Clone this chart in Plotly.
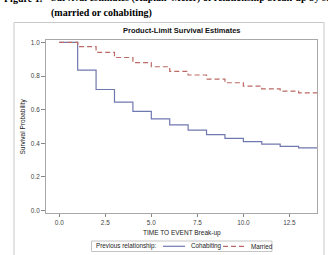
import plotly.graph_objects as go

# Data (Kaplan-Meier step estimates)
time = [0, 1, 2, 3, 4, 5, 6, 7, 8, 9, 10, 11, 12, 13, 14]
cohabiting = [1.0, 0.835, 0.72, 0.645, 0.59, 0.545, 0.51, 0.478, 0.452, 0.43, 0.41, 0.395, 0.382, 0.373, 0.373]
married = [1.0, 0.975, 0.94, 0.91, 0.88, 0.855, 0.828, 0.806, 0.782, 0.76, 0.74, 0.724, 0.71, 0.70, 0.70]
x_ticks = [0, 2.5, 5, 7.5, 10, 12.5]
y_ticks = [0, 0.2, 0.4, 0.6, 0.8, 1.0]
series_names = ["Cohabiting", "Married"]

W, H = 328, 255
L, R, T, B = 46, 11, 40, 42
pw, ph = W - L - R, H - T - B

def px(x):
    return (x - L) / pw

def py(y):
    return (H - B - y) / ph

BLUE = "#7078b0"
RED = "#bb6a66"
SANS = "Liberation Sans, Arial"

fig = go.Figure()
fig.add_trace(go.Scatter(x=time, y=cohabiting, mode="lines", line_shape="hv",
                         name=series_names[0], line=dict(color=BLUE, width=1.2)))
fig.add_trace(go.Scatter(x=time, y=married, mode="lines", line_shape="hv",
                         name=series_names[1], line=dict(color=RED, width=1.2, dash="5px,3px")))

axfont = dict(family=SANS, size=6.4, color="#444444")
fig.update_xaxes(range=[-0.72, 14.0], tickvals=x_ticks, tickformat=".1f",
                 showgrid=False, zeroline=False, showline=True, mirror=True,
                 linecolor="#a8a8a8", linewidth=1, ticks="outside", ticklen=3,
                 tickcolor="#888888", tickfont=axfont)
fig.update_yaxes(range=[-0.014, 1.014], tickvals=y_ticks, tickformat=".1f",
                 showgrid=False, zeroline=False, showline=True, mirror=True,
                 linecolor="#a8a8a8", linewidth=1, ticks="outside", ticklen=4,
                 tickcolor="#888888", tickfont=axfont)

titlefont = dict(family=SANS, size=6.5, color="#222222")
fig.add_annotation(xref="paper", yref="paper", x=0.5, y=py(233), text="TIME TO EVENT Break-up",
                   showarrow=False, xanchor="center", yanchor="middle", font=titlefont)
fig.add_annotation(xref="paper", yref="paper", x=px(22), y=py(126.5), text="Survival Probability",
                   showarrow=False, xanchor="center", yanchor="middle", textangle=-90, font=titlefont)

# outer figure frame
fig.add_shape(type="rect", xref="paper", yref="paper",
              x0=px(14), x1=px(324), y0=py(262), y1=py(22.5),
              line=dict(color="#c8c8c8", width=1), fillcolor="rgba(0,0,0,0)", layer="below")

# plot title
fig.add_annotation(xref="paper", yref="paper", x=0.5, y=py(31), text="<b>Product-Limit Survival Estimates</b>",
                   showarrow=False, xanchor="center", yanchor="middle",
                   font=dict(family=SANS, size=7.5, color="#111111"))

# document caption (first line partly clipped at the top)
capfont = dict(family="Liberation Serif, Times New Roman", size=10, color="#000000")
fig.add_annotation(xref="paper", yref="paper", x=px(2), y=py(-1.5), text="<b>Figure 1.</b>",
                   showarrow=False, xanchor="left", yanchor="middle", font=capfont)
fig.add_annotation(xref="paper", yref="paper", x=px(49), y=py(-1.5),
                   text="<b>Survival estimates (Kaplan\u2013Meier) of relationship break-up by status</b>",
                   showarrow=False, xanchor="left", yanchor="middle", font=capfont)
fig.add_annotation(xref="paper", yref="paper", x=px(49), y=py(12.5),
                   text="<b>(married or cohabiting)</b>",
                   showarrow=False, xanchor="left", yanchor="middle", font=capfont)

# legend box (drawn manually to match the compact SAS legend)
legfont = dict(family=SANS, size=6.3, color="#222222")
ly = 246.3
fig.add_shape(type="rect", xref="paper", yref="paper",
              x0=px(91.5), x1=px(272), y0=py(251.5), y1=py(241),
              line=dict(color="#c4c4c4", width=1), fillcolor="white")
fig.add_annotation(xref="paper", yref="paper", x=px(93.5), y=py(ly), text="Previous relationship:",
                   showarrow=False, xanchor="left", yanchor="middle", font=legfont)
fig.add_shape(type="line", xref="paper", yref="paper", x0=px(163), x1=px(185), y0=py(ly), y1=py(ly),
              line=dict(color=BLUE, width=1.2))
fig.add_annotation(xref="paper", yref="paper", x=px(189), y=py(ly), text=series_names[0],
                   showarrow=False, xanchor="left", yanchor="middle", font=legfont)
fig.add_shape(type="line", xref="paper", yref="paper", x0=px(223), x1=px(245), y0=py(ly), y1=py(ly),
              line=dict(color=RED, width=1.2, dash="5px,3px"))
fig.add_annotation(xref="paper", yref="paper", x=px(249), y=py(ly), text=series_names[1],
                   showarrow=False, xanchor="left", yanchor="middle", font=legfont)

fig.update_layout(
    width=W, height=H,
    margin=dict(l=L, r=R, t=T, b=B, pad=0),
    paper_bgcolor="white", plot_bgcolor="white",
    showlegend=False,
)

fig.write_html("out.html")
